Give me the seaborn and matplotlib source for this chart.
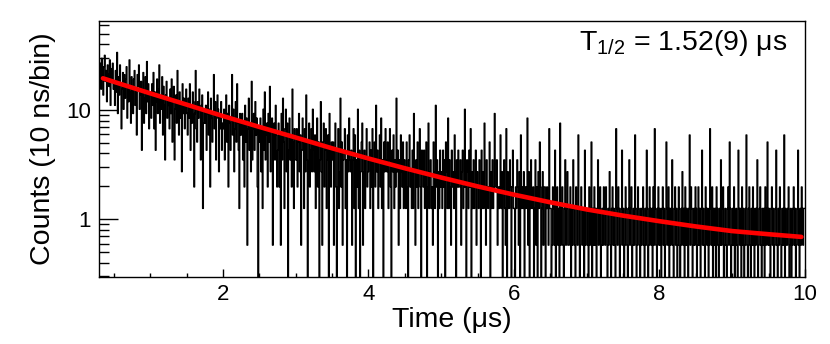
import numpy as np
import pandas as pd
import matplotlib
matplotlib.use("Agg")
import matplotlib.pyplot as plt
import seaborn as sns
from matplotlib.ticker import FixedLocator, NullFormatter, FixedFormatter

sns.set_theme(style="white")
plt.rcParams['font.family'] = ['Liberation Sans', 'DejaVu Sans']
plt.rcParams['mathtext.fontset'] = 'custom'
plt.rcParams['mathtext.rm'] = 'Liberation Sans'
plt.rcParams['mathtext.it'] = 'Liberation Sans:italic'

# ---------------- data ----------------
BIN_START = 0.30   # us
BIN_WIDTH = 0.01   # us (10 ns/bin)

# counts per 10 ns bin
counts_03_20 = [
    26, 31, 19, 34, 24, 17, 29, 36, 22, 27, 15, 30, 25, 20, 33, 14, 28, 23, 31, 19,
    22, 14, 27, 18, 38, 12, 24, 17, 30, 21, 9, 19, 26, 13, 25, 16, 23, 29, 11, 20, 15, 33, 18, 10, 24,
    19, 12, 23, 27, 14, 18, 8, 25, 20, 30, 13, 17, 22, 6, 19, 26, 10, 16, 24, 12, 32, 15, 21, 9, 18,
    17, 11, 21, 14, 26, 9, 18, 6, 15, 23, 12, 19, 30, 10, 16, 13, 24, 8, 20, 14, 5, 17, 22, 11, 15,
    14, 9, 19, 12, 23, 7, 16, 20, 5, 13, 17, 10, 27, 14, 8, 18, 11, 15, 4, 21, 12, 16, 9, 14, 19,
    12, 8, 16, 11, 21, 6, 14, 10, 18, 15, 3, 12, 27, 9, 7, 15, 11, 19, 13, 5, 14, 17, 2, 10, 13,
    10, 14, 6, 12, 18, 8, 13, 3, 16, 11, 7, 12, 25, 9, 15, 5, 11, 17, 13, 4, 12, 9, 15, 6, 10,
]
counts_20_40 = [
    9, 13, 5, 11, 17, 7, 12, 3, 14, 10, 6, 11, 25, 8, 13, 4, 9, 15, 7, 21, 10, 6, 2, 12, 8,
    8, 12, 5, 10, 3, 14, 7, 11, 1, 9, 16, 6, 10, 4, 22, 5, 9, 12, 6, 15, 8, 11, 3, 0, 9,
    7, 11, 4, 9, 2, 13, 6, 18, 5, 8, 10, 3, 12, 7, 20, 4, 9, 11, 1, 6, 10, 5, 14, 8, 3,
    6, 10, 3, 8, 1, 12, 5, 16, 7, 2, 9, 13, 4, 10, 0, 6, 11, 5, 8, 3, 19, 7, 2, 9, 5,
    5, 9, 3, 7, 12, 4, 8, 1, 6, 11, 7, 2, 9, 4, 17, 5, 0, 7, 10, 3, 6, 9, 4, 13, 6,
    4, 8, 2, 6, 11, 3, 7, 0, 5, 15, 4, 1, 7, 10, 3, 6, 9, 2, 5, 8, 0, 12, 6, 3, 7,
    5, 7, 1, 6, 10, 3, 0, 6, 9, 2, 4, 16, 3, 7, 1, 5, 6, 9, 2, 5, 0, 8, 4, 11, 5,
    4, 6, 1, 5, 9, 2, 8, 0, 5, 3, 13, 2, 6, 0, 4, 7, 10, 1, 4, 6, 2, 5, 9, 3, 4,
]
counts_40_60 = [
    5, 7, 2, 6, 3, 9, 0, 5, 7, 3, 14, 4, 6, 2, 5, 8, 3, 11, 2, 5, 0, 7, 4, 9, 5,
    4, 7, 2, 5, 9, 3, 0, 6, 4, 8, 2, 5, 3, 16, 4, 6, 1, 5, 2, 8, 4, 3, 7, 2, 5,
    4, 2, 7, 3, 0, 5, 8, 3, 4, 2, 6, 2, 12, 4, 1, 5, 3, 7, 2, 4, 9, 3, 0, 6, 4,
    3, 6, 2, 4, 7, 0, 3, 10, 2, 4, 5, 2, 3, 1, 7, 4, 2, 14, 3, 5, 0, 4, 2, 6, 3,
    4, 2, 6, 3, 5, 0, 7, 4, 2, 11, 2, 5, 3, 1, 6, 3, 4, 2, 8, 4, 0, 5, 3, 6, 3,
    3, 5, 1, 4, 6, 2, 3, 13, 3, 0, 5, 4, 2, 6, 3, 9, 0, 4, 2, 5, 2, 3, 6, 1, 4,
    3, 2, 5, 3, 0, 6, 2, 4, 2, 10, 3, 1, 5, 3, 2, 3, 7, 0, 4, 2, 5, 2, 3, 12, 3,
    3, 5, 1, 3, 2, 3, 8, 2, 4, 0, 3, 5, 2, 1, 9, 0, 4, 2, 2, 5, 3, 0, 3, 6, 2,
]
counts_60_80 = [
    2, 0, 3, 2, 5, 3, 1, 4, 0, 8, 2, 3, 2, 4, 0, 3, 2, 3, 11, 1, 4, 0, 2, 5, 2,
    2, 3, 0, 2, 5, 1, 3, 0, 4, 2, 7, 3, 0, 2, 4, 1, 3, 3, 0, 2, 3, 2, 1, 9, 2,
    2, 0, 1, 3, 2, 1, 6, 0, 2, 3, 1, 2, 0, 10, 1, 2, 3, 1, 0, 2, 5, 1, 2, 4, 1,
    1, 2, 3, 0, 2, 1, 5, 2, 1, 0, 3, 2, 1, 8, 2, 0, 1, 3, 2, 1, 2, 0, 6, 1, 2,
    2, 1, 0, 3, 1, 2, 7, 0, 2, 1, 3, 1, 2, 0, 2, 5, 1, 2, 3, 0, 1, 2, 1, 3, 2,
    1, 3, 2, 0, 1, 2, 4, 1, 0, 2, 3, 1, 2, 1, 0, 9, 2, 1, 3, 2, 0, 1, 2, 6, 1,
    2, 0, 1, 3, 2, 1, 0, 2, 5, 1, 2, 3, 0, 1, 2, 1, 8, 2, 0, 1, 3, 2, 1, 0, 2,
    1, 2, 3, 1, 0, 2, 1, 6, 2, 0, 1, 3, 2, 1, 2, 0, 3, 1, 9, 2, 1, 0, 2, 3, 1,
]
counts_80_100 = [
    2, 1, 0, 2, 3, 1, 2, 0, 1, 7, 2, 1, 3, 0, 2, 1, 2, 5, 1, 0, 2, 3, 1, 2, 0,
    1, 3, 2, 0, 1, 2, 4, 1, 2, 0, 3, 1, 2, 1, 0, 2, 8, 1, 3, 2, 0, 1, 2, 1, 3,
    2, 0, 1, 3, 1, 2, 0, 2, 6, 1, 2, 1, 0, 3, 2, 1, 2, 0, 1, 9, 2, 1, 3, 0, 2,
    1, 2, 0, 3, 2, 1, 0, 2, 1, 5, 1, 2, 3, 0, 1, 2, 1, 0, 2, 3, 1, 7, 2, 0, 1,
    2, 1, 3, 0, 1, 2, 1, 0, 6, 2, 1, 2, 0, 3, 1, 2, 0, 1, 2, 8, 1, 0, 2, 3, 1,
    0, 2, 1, 3, 1, 0, 2, 1, 2, 5, 0, 1, 2, 3, 1, 0, 2, 1, 2, 0, 3, 1, 2, 7, 1,
    2, 1, 0, 2, 3, 1, 2, 0, 1, 2, 6, 1, 0, 2, 1, 3, 2, 0, 1, 2, 1, 8, 0, 2, 1,
    1, 2, 3, 0, 1, 2, 0, 1, 2, 3, 1, 2, 0, 1, 2, 6, 1, 0, 2, 1, 3, 2, 1, 2, 2,
]

# vertical calibration of the reference's drawn histogram against its axis
Y_UNIT = 0.58
Y_POWER = 1.116

# red fit curve
fit_time = [0.35, 0.5, 1.0, 1.5, 2.0, 2.5, 3.0, 3.5, 4.0, 4.5, 5.0,
            5.5, 6.0, 6.5, 7.0, 7.5, 8.0, 8.5, 9.0, 9.5, 9.95]
fit_value = [19.5, 18.1, 14.2, 11.2, 8.8, 7.0, 5.6, 4.46, 3.6, 2.93, 2.41,
             2.0, 1.68, 1.43, 1.23, 1.08, 0.96, 0.86, 0.78, 0.73, 0.69]

x_major = [2, 4, 6, 8, 10]
x_minor = [0.5, 1.0, 1.5, 2.5, 3.0, 3.5, 4.5, 5.0, 5.5, 6.5, 7.0, 7.5, 8.5, 9.0, 9.5]
y_major = [1, 10]
y_major_labels = ["1", "10"]
y_minor = [0.3, 0.4, 0.5, 0.6, 0.7, 0.8, 0.9, 2, 3, 4, 5, 6, 7, 8, 9, 20, 30, 40, 50, 60]

# ---------------- build ----------------
counts = np.array(counts_03_20 + counts_20_40 + counts_40_60 + counts_60_80 + counts_80_100, dtype=float)
edges = BIN_START + BIN_WIDTH * np.arange(len(counts) + 1)
centers = 0.5 * (edges[:-1] + edges[1:])
shown = np.where(counts > 0, Y_UNIT * np.power(counts, Y_POWER), 0.0)
df = pd.DataFrame({"time": centers, "value": shown})
fit_df = pd.DataFrame({"time": fit_time, "value": fit_value})

fig = plt.figure(figsize=(8.3, 3.44), dpi=100)
ax = fig.add_axes([99.3 / 830, 1 - 277.3 / 344, (805 - 99.3) / 830, (277.3 - 20.7) / 344])

sns.histplot(data=df, x="time", weights="value", bins=list(edges), element="step",
             fill=False, color="black", linewidth=1.0, ax=ax)
sns.lineplot(data=fit_df, x="time", y="value", color="#ff0000", linewidth=3.3, ax=ax)

ax.set_yscale("log")
ax.set_xlim(0.3, 10)
ax.set_ylim(0.2946, 65.6)

ax.xaxis.set_major_locator(FixedLocator(x_major))
ax.xaxis.set_minor_locator(FixedLocator(x_minor))
ax.xaxis.set_minor_formatter(NullFormatter())
ax.yaxis.set_major_locator(FixedLocator(y_major))
ax.yaxis.set_major_formatter(FixedFormatter(y_major_labels))
ax.yaxis.set_minor_locator(FixedLocator(y_minor))
ax.yaxis.set_minor_formatter(NullFormatter())

ax.tick_params(axis="both", which="both", direction="in", colors="black",
               bottom=True, left=True, top=False, right=False,
               labelsize=16, width=1)
ax.tick_params(axis="x", which="major", length=5.8, pad=5)
ax.tick_params(axis="x", which="minor", length=3.2)
ax.tick_params(axis="y", which="major", length=13.7, pad=6)
ax.tick_params(axis="y", which="minor", length=7)

for s in ax.spines.values():
    s.set_color("black")
    s.set_linewidth(1.0)

ax.set_xlabel("Time (μs)", fontsize=20.5, color="black", labelpad=1)
ax.set_ylabel("Counts (10 ns/bin)", fontsize=20.5, color="black", labelpad=7)
ax.text(0.975, 0.915, r"T$_{\rm 1/2}$ = 1.52(9) μs", transform=ax.transAxes,
        ha="right", va="center", fontsize=20.5, color="black")

fig.savefig("out.png", dpi=100, facecolor="white")
